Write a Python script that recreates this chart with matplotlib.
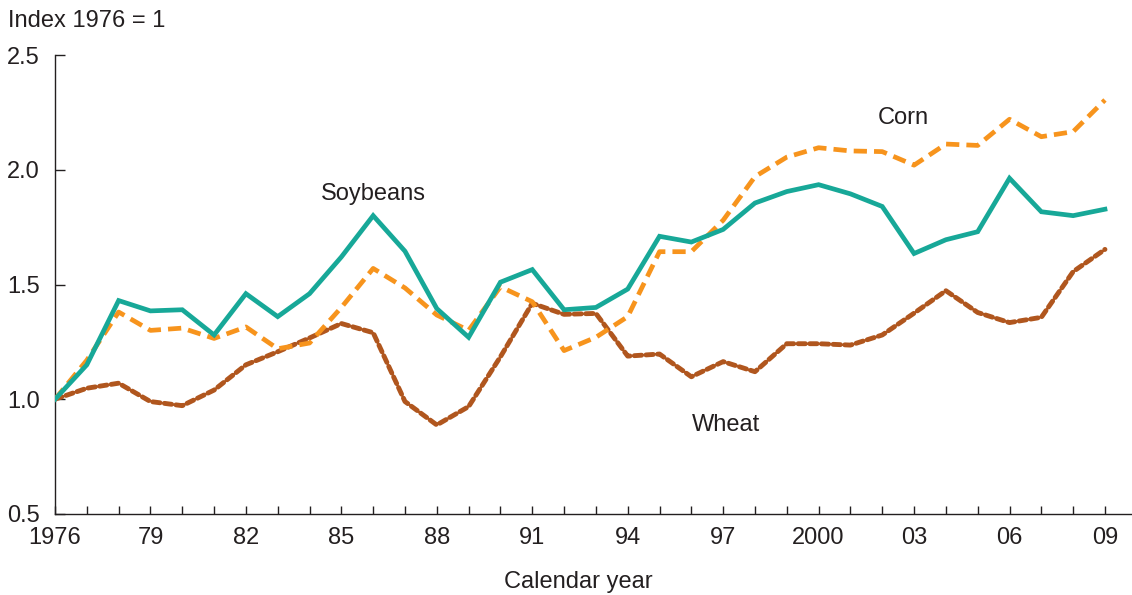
import numpy as np
import matplotlib.pyplot as plt

plt.rcParams['font.family'] = ['Liberation Sans', 'DejaVu Sans']

years = list(range(1976, 2010))
soybeans = [1.00, 1.15, 1.43, 1.385, 1.39, 1.28, 1.46, 1.36, 1.46, 1.62, 1.80, 1.645,
            1.395, 1.27, 1.51, 1.565, 1.39, 1.40, 1.48, 1.71, 1.685, 1.74, 1.855, 1.905,
            1.935, 1.895, 1.84, 1.635, 1.695, 1.73, 1.963, 1.817, 1.80, 1.828]
corn = [1.00, 1.17, 1.38, 1.30, 1.31, 1.265, 1.315, 1.22, 1.245, 1.40, 1.57, 1.485,
        1.367, 1.30, 1.49, 1.425, 1.212, 1.27, 1.36, 1.643, 1.643, 1.78, 1.97, 2.055,
        2.096, 2.082, 2.079, 2.02, 2.112, 2.106, 2.22, 2.144, 2.166, 2.304]
wheat = [1.00, 1.048, 1.07, 0.99, 0.972, 1.04, 1.15, 1.207, 1.267, 1.33, 1.29, 0.99,
         0.888, 0.968, 1.185, 1.418, 1.37, 1.374, 1.188, 1.197, 1.098, 1.164, 1.12, 1.242,
         1.242, 1.236, 1.28, 1.375, 1.473, 1.378, 1.334, 1.357, 1.556, 1.653]

labelled = [1976, 1979, 1982, 1985, 1988, 1991, 1994, 1997, 2000, 2003, 2006, 2009]
label_text = ['1976', '79', '82', '85', '88', '91', '94', '97', '2000', '03', '06', '09']

SOY = '#17A898'
CORN = '#F7941D'
WHEAT = '#B0561E'
TXT = '#231F20'

fig = plt.figure(figsize=(11.32, 5.95), dpi=100)
ax = fig.add_axes([55 / 1132, 81 / 595, 1 - 55 / 1132, 459 / 595])

ax.plot(years, wheat, color=WHEAT, linewidth=3.5, linestyle=(0, (1.5, 0.9)),
        dash_capstyle='round', solid_joinstyle='round', zorder=2)
ax.plot(years, corn, color=CORN, linewidth=3.4, linestyle=(0, (2.8, 1.5)),
        dash_capstyle='butt', zorder=3)
ax.plot(years, soybeans, color=SOY, linewidth=3.4, solid_joinstyle='miter', zorder=4)

ax.set_xlim(1976, 2009.85)
ax.set_ylim(0.5, 2.5)
ax.set_yticks([0.5, 1.0, 1.5, 2.0, 2.5])
ax.set_yticklabels(['0.5', '1.0', '1.5', '2.0', '2.5'])
ax.set_xticks(years)
ax.set_xticklabels([label_text[labelled.index(y)] if y in labelled else '' for y in years])

for s in ['top', 'right']:
    ax.spines[s].set_visible(False)
for s in ['left', 'bottom']:
    ax.spines[s].set_linewidth(1.0)
    ax.spines[s].set_color(TXT)

ax.tick_params(axis='y', direction='in', length=7, width=1, pad=11,
               labelsize=17, colors=TXT)
ax.tick_params(axis='x', direction='in', length=6, width=1, pad=9,
               labelsize=17, colors=TXT)

ax.text(1986.0, 1.894, 'Soybeans', fontsize=17, color=TXT, ha='center', va='center')
ax.text(2002.65, 2.225, 'Corn', fontsize=17, color=TXT, ha='center', va='center')
ax.text(1997.1, 0.888, 'Wheat', fontsize=17, color=TXT, ha='center', va='center')

fig.text(8 / 1132, 1 - 21 / 595, 'Index 1976 = 1', fontsize=17, color=TXT,
         ha='left', va='center')
fig.text(578 / 1132, 1 - 582 / 595, 'Calendar year', fontsize=17, color=TXT,
         ha='center', va='center')

fig.savefig('out.png', dpi=100)
